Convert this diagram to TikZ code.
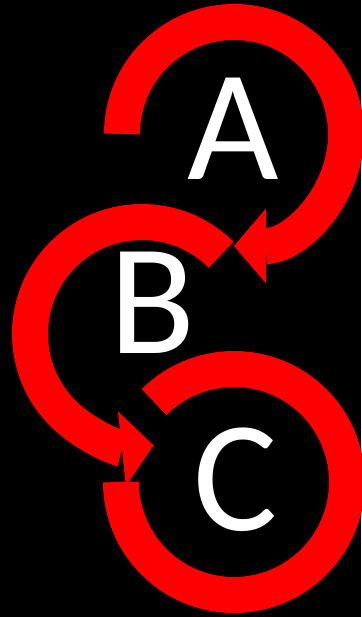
\documentclass[tikz,border=0pt]{standalone}
\usepackage{fontspec}
\newfontfamily\lpfont{Carlito}
\usetikzlibrary{arrows.meta,calc}
\definecolor{lpred}{HTML}{FF0000}
\tikzset{
  loopRing/.style={draw=lpred, line width=0.72cm},
  loopArrow/.style={loopRing, -{Triangle[length=0.64cm, width=1.5cm, line width=0pt]}},
  loopLetter/.style={text=white, font=\lpfont\fontsize{90}{90}\selectfont, inner sep=0pt}
}

\begin{document}
\begin{tikzpicture}[x=0.02cm,y=0.02cm]
  \fill[black] (0,0) rectangle (361,617);
  \useasboundingbox (0,0) rectangle (361,617);
  % centres of the three loops
  \coordinate (cA) at (234,483);
  \coordinate (cB) at (142,283);
  \coordinate (cC) at (234,135);
  \draw[loopArrow] ($(cA)+(180:112)$) arc[start angle=180, end angle=-90, radius=112];
  \draw[loopArrow] ($(cB)+(45:112)$) arc[start angle=45, end angle=276, radius=112];
  \draw[loopRing] ($(cC)+(180:113)$) arc[start angle=180, end angle=495, radius=113];
  \node[loopLetter] (A) at (233,488) {A};
  \node[loopLetter] (B) at (153,314) {B};
  \node[loopLetter] (C) at (236,137) {C};
\end{tikzpicture}
\end{document}
